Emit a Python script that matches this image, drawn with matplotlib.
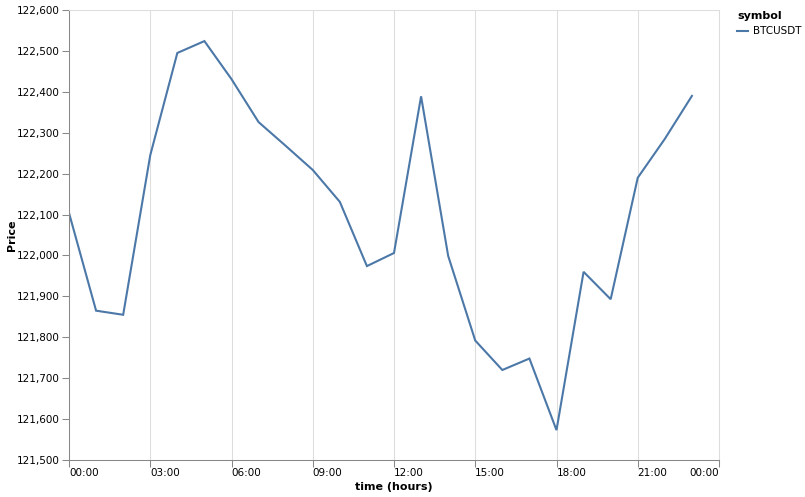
import numpy as np
import matplotlib.pyplot as plt
from matplotlib.ticker import FuncFormatter, MultipleLocator

# hourly BTCUSDT prices
hours = [0, 1, 2, 3, 4, 5, 6, 7, 8, 9, 10, 11, 12, 13, 14, 15, 16, 17, 18, 19, 20, 21, 22, 23]
price = [122104, 121865, 121855, 122245, 122495, 122524, 122431, 122326, 122268, 122209,
         122131, 121974, 122006, 122389, 121999, 121792, 121720, 121748, 121573, 121960,
         121893, 122190, 122285, 122390]
symbol = "BTCUSDT"
x_ticks = [0, 3, 6, 9, 12, 15, 18, 21, 24]

fig = plt.figure(figsize=(8.05, 4.97), dpi=100)
ax = fig.add_axes([69/805, 37/497, 650/805, 450/497])

ax.plot(hours, price, color='#4c78a8', lw=1.5, label=symbol, solid_joinstyle='miter')

ax.set_xlim(0, 24)
ax.set_ylim(121500, 122600)
ax.set_xticks(x_ticks)
ax.xaxis.set_major_formatter(FuncFormatter(lambda v, p: "%02d:00" % (int(v) % 24)))
ax.yaxis.set_major_locator(MultipleLocator(100))
ax.yaxis.set_major_formatter(FuncFormatter(lambda v, p: "{:,.0f}".format(v)))

ax.grid(axis='x', color='#dddddd', lw=0.75)
ax.set_axisbelow(True)
for s in ['top', 'right']:
    ax.spines[s].set_color('#dddddd')
    ax.spines[s].set_linewidth(0.75)
for s in ['left', 'bottom']:
    ax.spines[s].set_color('#888888')
    ax.spines[s].set_linewidth(0.75)
ax.tick_params(axis='both', length=5, width=0.75, color='#888888', labelsize=7.5, labelcolor='#000000', pad=1.5)
ax.tick_params(axis='x', pad=1)
for lbl in ax.get_xticklabels():
    lbl.set_horizontalalignment('left')
ax.get_xticklabels()[-1].set_horizontalalignment('right')

ax.set_xlabel("time (hours)", fontsize=8, fontweight='bold')
ax.set_ylabel("Price", fontsize=8, fontweight='bold')
ax.xaxis.set_label_coords(0.5, -0.048)
ax.yaxis.set_label_coords(-0.080, 0.5)

leg = ax.legend(title="symbol", loc='upper left', bbox_to_anchor=(1.0215, 1.0067), frameon=False,
                fontsize=7.5, title_fontproperties={'weight': 'bold', 'size': 8},
                handlelength=1.0, handletextpad=0.5, borderaxespad=0, alignment='left')

plt.savefig('out.png', dpi=100)
